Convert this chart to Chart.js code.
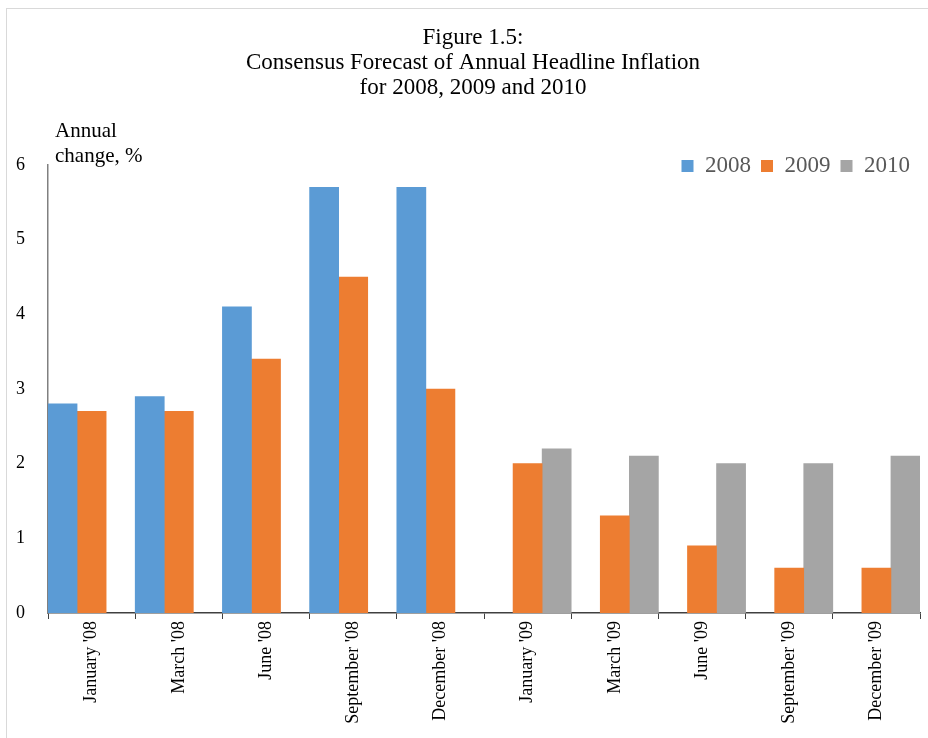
<!DOCTYPE html>
<html lang="en">
<head>
    <meta charset="UTF-8">
    <title>Figure 1.5</title>
    <script src="https://cdn.jsdelivr.net/npm/chart.js"></script>
    <style>
        body { margin: 0; background: #fff; }
        .wrap { position: relative; width: 928px; height: 738px; overflow: hidden; }
        .frame {
            position: absolute; left: 6px; top: 8px;
            width: 960px; height: 760px;
            border: 1px solid #d9d9d9;
        }
        canvas { position: absolute; left: 0; top: 0; }
    </style>
</head>
<body>
    <div class="wrap">
        <div class="frame"></div>
        <canvas id="inflation-chart" width="928" height="738"></canvas>
    </div>

    <script>
        const months = ["January '08", "March '08", "June '08", "September '08", "December '08",
                        "January '09", "March '09", "June '09", "September '09", "December '09"];
        const forecast2008 = [2.8, 2.9, 4.1, 5.7, 5.7, null, null, null, null, null];
        const forecast2009 = [2.7, 2.7, 3.4, 4.5, 3.0, 2.0, 1.3, 0.9, 0.6, 0.6];
        const forecast2010 = [null, null, null, null, null, 2.2, 2.1, 2.0, 2.0, 2.1];
        const yTicks = [0, 1, 2, 3, 4, 5, 6];

        const serif = "'Liberation Serif', 'Times New Roman', serif";

        // legend sits inside the plot, so it should not take layout space
        const legendPlacer = {
            id: 'legendPlacer',
            afterInit(chart) {
                const lg = chart.legend;
                const fit = lg.fit;
                lg.fit = function () {
                    fit.call(this);
                    this.height = 0;
                };
            },
            afterLayout(chart) {
                chart.legend.top = 166 - 10 - 11.5;
                chart.legend.bottom = chart.legend.top + 60;
                chart.titleBlock.left = 26;
            }
        };

        const unitLabel = {
            id: 'unitLabel',
            afterDraw(chart) {
                const ctx = chart.ctx;
                const x = chart.chartArea.left + 7;
                ctx.save();
                ctx.font = '21px ' + serif;
                ctx.fillStyle = '#000';
                ctx.textAlign = 'left';
                ctx.textBaseline = 'middle';
                ctx.fillText('Annual', x, 131);
                ctx.fillText('change, %', x, 156);
                ctx.restore();
            }
        };

        const ctx = document.getElementById('inflation-chart').getContext('2d');

        new Chart(ctx, {
            type: 'bar',
            data: {
                labels: months,
                datasets: [
                    { label: '2008', data: forecast2008, backgroundColor: '#5B9BD5', borderColor: '#5B9BD5' },
                    { label: '2009', data: forecast2009, backgroundColor: '#ED7D31', borderColor: '#ED7D31' },
                    { label: '2010', data: forecast2010, backgroundColor: '#A5A5A5', borderColor: '#A5A5A5' }
                ]
            },
            options: {
                responsive: false,
                animation: false,
                layout: { padding: { left: 0, right: 8, top: 0, bottom: 0 } },
                datasets: {
                    bar: { categoryPercentage: 1.0, barPercentage: 1.0, skipNull: false }
                },
                plugins: {
                    title: {
                        display: true,
                        text: ['Figure 1.5:', 'Consensus Forecast of Annual Headline Inflation', 'for 2008, 2009 and 2010'],
                        color: '#000',
                        font: { family: serif, size: 23, weight: 'normal', lineHeight: '25px' },
                        padding: { top: 25, bottom: 65 }
                    },
                    legend: {
                        display: true,
                        position: 'top',
                        align: 'end',
                        labels: {
                            boxWidth: 12,
                            boxHeight: 12,
                            padding: 10,
                            color: '#595959',
                            font: { family: serif, size: 23 }
                        }
                    },
                    tooltip: { enabled: false }
                },
                scales: {
                    x: {
                        grid: { display: true, drawOnChartArea: false, drawTicks: true, tickLength: 6, color: '#404040', offset: true },
                        border: { display: true, color: '#404040', width: 1.5 },
                        ticks: {
                            color: '#000',
                            font: { family: serif, size: 18 },
                            minRotation: 90,
                            maxRotation: 90,
                            padding: 2
                        },
                        afterFit(scale) { scale.height = 738 - 613; }
                    },
                    y: {
                        min: 0,
                        max: 6,
                        grid: { display: false },
                        border: { display: true, color: '#808080', width: 1.5 },
                        afterBuildTicks(scale) { scale.ticks = yTicks.map(v => ({ value: v })); },
                        ticks: {
                            color: '#000',
                            font: { family: serif, size: 18 },
                            padding: 15
                        },
                        afterFit(scale) { scale.width = 48; }
                    }
                }
            },
            plugins: [legendPlacer, unitLabel]
        });
    </script>
</body>
</html>
